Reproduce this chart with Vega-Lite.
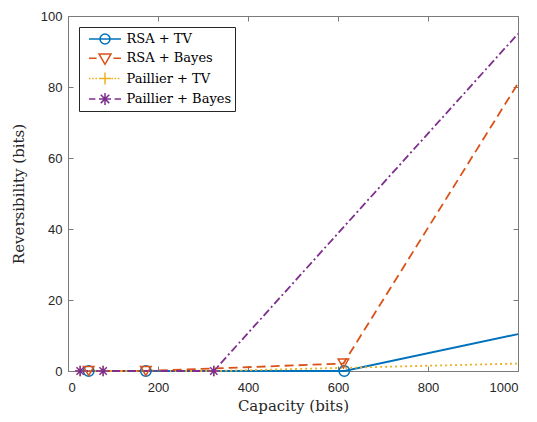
{
  "$schema": "https://vega.github.io/schema/vega-lite/v6.json",
  "width": 450,
  "height": 355,
  "autosize": "none",
  "padding": {"left": 68, "top": 16, "right": 19, "bottom": 51},
  "background": "white",
  "config": {
    "view": {"stroke": "#7a7a7a", "strokeWidth": 1},
    "axis": {
      "domain": false,
      "grid": false,
      "tickColor": "#7a7a7a",
      "tickWidth": 1,
      "tickSize": -5,
      "labelFont": "Liberation Sans",
      "labelFontSize": 13,
      "labelColor": "#262626",
      "titleFont": "DejaVu Serif",
      "titleFontSize": 15,
      "titleFontWeight": "normal",
      "titleColor": "#262626"
    }
  },
  "data": {
    "values": [
      {"series": "RSA + TV", "x": 46, "y": 0},
      {"series": "RSA + TV", "x": 173, "y": 0},
      {"series": "RSA + TV", "x": 614, "y": 0},
      {"series": "RSA + TV", "x": 1000, "y": 10.4},
      {"series": "RSA + Bayes", "x": 46, "y": 0},
      {"series": "RSA + Bayes", "x": 173, "y": 0},
      {"series": "RSA + Bayes", "x": 612, "y": 2.1},
      {"series": "RSA + Bayes", "x": 1000, "y": 81},
      {"series": "Paillier + TV", "x": 27, "y": 0},
      {"series": "Paillier + TV", "x": 78, "y": 0},
      {"series": "Paillier + TV", "x": 324, "y": 0},
      {"series": "Paillier + TV", "x": 1000, "y": 2.1},
      {"series": "Paillier + Bayes", "x": 27, "y": 0},
      {"series": "Paillier + Bayes", "x": 78, "y": 0},
      {"series": "Paillier + Bayes", "x": 324, "y": 0},
      {"series": "Paillier + Bayes", "x": 1000, "y": 95}
    ]
  },
  "layer": [
    {
      "transform": [{"filter": "datum.series === 'RSA + TV'"}],
      "mark": {"type": "line", "strokeWidth": 1.8, "color": "#0072BD"},
      "encoding": {
        "x": {
          "field": "x", "type": "quantitative",
          "scale": {"domain": [0, 1000], "nice": false},
          "axis": {"orient": "bottom", "values": [0, 200, 400, 600, 800, 1000], "format": "d", "title": "Capacity (bits)", "labelPadding": 15, "titlePadding": 4}
        },
        "y": {
          "field": "y", "type": "quantitative",
          "scale": {"domain": [0, 100], "nice": false},
          "axis": {"orient": "left", "values": [0, 20, 40, 60, 80, 100], "format": "d", "title": "Reversibility (bits)", "labelPadding": 11, "titlePadding": 14}
        }
      }
    },
    {
      "transform": [{"filter": "datum.series === 'RSA + Bayes'"}],
      "mark": {"type": "line", "strokeWidth": 1.8, "color": "#D95319", "strokeDash": [9, 5]},
      "encoding": {
        "x": {"field": "x", "type": "quantitative", "axis": null},
        "y": {"field": "y", "type": "quantitative", "axis": null}
      }
    },
    {
      "transform": [{"filter": "datum.series === 'Paillier + TV'"}],
      "mark": {"type": "line", "strokeWidth": 1.8, "color": "#EDB120", "strokeDash": [2, 3]},
      "encoding": {
        "x": {"field": "x", "type": "quantitative", "axis": null},
        "y": {"field": "y", "type": "quantitative", "axis": null}
      }
    },
    {
      "transform": [{"filter": "datum.series === 'Paillier + Bayes'"}],
      "mark": {"type": "line", "strokeWidth": 1.8, "color": "#7E2F8E", "strokeDash": [8, 3, 2, 3]},
      "encoding": {
        "x": {"field": "x", "type": "quantitative", "axis": null},
        "y": {"field": "y", "type": "quantitative", "axis": null}
      }
    },
    {
      "transform": [{"filter": "datum.x < 1000"}],
      "mark": {"type": "point", "filled": false, "strokeWidth": 1.5, "size": 110, "opacity": 1},
      "encoding": {
        "x": {
          "field": "x", "type": "quantitative",
          "axis": {"orient": "top", "values": [0, 200, 400, 600, 800, 1000], "labels": false, "title": null}
        },
        "y": {
          "field": "y", "type": "quantitative",
          "axis": {"orient": "right", "values": [0, 20, 40, 60, 80, 100], "labels": false, "title": null}
        },
        "color": {
          "field": "series", "type": "nominal",
          "scale": {"domain": ["RSA + TV", "RSA + Bayes", "Paillier + TV", "Paillier + Bayes"], "range": ["#0072BD", "#D95319", "#EDB120", "#7E2F8E"]},
          "legend": {
            "title": null, "orient": "top-left", "offset": 11,
            "padding": 3, "strokeColor": "#262626", "fillColor": "white",
            "labelFont": "DejaVu Serif", "labelFontSize": 13, "labelColor": "#000000",
            "symbolSize": 256, "symbolStrokeWidth": 1.5, "rowPadding": 2.3, "labelOffset": 18.5, "symbolOffset": 8,
            "symbolType": {"expr": "datum.value === 'RSA + TV' ? 'M-1.25,0H2.75M0.125,0A0.625,0.625,0,1,0,1.375,0A0.625,0.625,0,1,0,0.125,0' : datum.value === 'RSA + Bayes' ? 'M-1.25,0H-0.3M1.8,0H2.75M0,-0.55L1.5,-0.55L0.75,0.75Z' : datum.value === 'Paillier + TV' ? 'M-1.25,0h0.2M-0.85,0h0.2M-0.45,0h0.2M1.55,0h0.2M1.95,0h0.2M2.35,0h0.2M0,0H1.5M0.75,-0.75V0.75' : 'M-1.25,0H-0.45M1.95,0H2.75M0,0H1.5M0.75,-0.75V0.75M0.22,-0.53L1.28,0.53M0.22,0.53L1.28,-0.53'"}
          }
        },
        "shape": {
          "field": "series", "type": "nominal",
          "scale": {"domain": ["Paillier + Bayes", "Paillier + TV", "RSA + Bayes", "RSA + TV"], "range": ["M-1,0H1M0,-1V1M-0.7,-0.7L0.7,0.7M-0.7,0.7L0.7,-0.7", "M-1,0H1M0,-1V1", "triangle-down", "circle"]},
          "legend": null
        }
      }
    }
  ],
  "resolve": {"axis": {"x": "independent", "y": "independent"}}
}
